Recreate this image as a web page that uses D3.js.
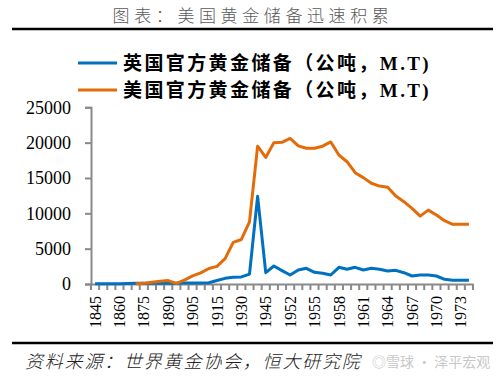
<!DOCTYPE html>
<html>
<head>
<meta charset="utf-8">
<script src="https://cdn.jsdelivr.net/npm/d3@7"></script>
<style>
  body { margin: 0; background: #fff; }
  svg { display: block; }
</style>
</head>
<body>
<svg></svg>
<script>
// categories (x axis), every 3rd one is labelled
let years = ['1845','1850','1855','1860','1865','1870','1875','1880','1885','1890',
             '1895','1900','1905','1910','1913','1915','1920','1925','1930','1935',
             '1940','1945','1948','1950','1952','1953','1954','1955','1956','1957',
             '1958','1959','1960','1961','1962','1963','1964','1965','1966','1967',
             '1968','1969','1970','1971','1972','1973','1974']

// UK official gold reserves (tonnes)
let ukGold = [40, 40, 40, 40, 60, 100, 100, 100, 100, 120,
              120, 130, 130, 150, 180, 500, 800, 950, 1000, 1400,
              12400, 1600, 2550, 1900, 1270, 1980, 2220, 1650, 1510, 1270,
              2360, 2080, 2360, 1980, 2220, 2080, 1840, 1930, 1600, 1130,
              1270, 1270, 1130, 660, 520, 520, 520]

// US official gold reserves (tonnes), no data before 1870
let usGold = [null, null, null, null, null, 30, 90, 250, 380, 480,
              80, 560, 1150, 1580, 2200, 2500, 3600, 5900, 6300, 8800,
              19500, 17900, 20000, 20050, 20600, 19550, 19200, 19200, 19500, 20100,
              18250, 17300, 15750, 15050, 14250, 13850, 13700, 12450, 11650, 10700,
              9600, 10450, 9750, 8950, 8450, 8450, 8450]

let yTicks = [0, 5000, 10000, 15000, 20000, 25000]

let seriesNames = ['英国官方黄金储备（公吨，M.T)', '美国官方黄金储备（公吨，M.T)']
let seriesColors = ['#0070C0', '#E36C0A']

let width = 502
let height = 379

let svg = d3.select('svg')
    .attr('width', width)
    .attr('height', height)

let serif = '"Liberation Serif", "Times New Roman", "Noto Sans CJK SC", serif'

// title
svg.append('text')
    .attr('x', 253)
    .attr('y', 22)
    .attr('text-anchor', 'middle')
    .style('font-family', '"Noto Sans CJK SC", sans-serif')
    .style('font-weight', 300)
    .style('font-size', '17px')
    .style('letter-spacing', '4.6px')
    .style('fill', '#595959')
    .text('图表：美国黄金储备迅速积累')

// top and bottom rules
svg.append('line')
    .attr('x1', 12).attr('x2', 493)
    .attr('y1', 29).attr('y2', 29)
    .attr('stroke', '#000').attr('stroke-width', 2.5)

svg.append('line')
    .attr('x1', 12).attr('x2', 493)
    .attr('y1', 343).attr('y2', 343)
    .attr('stroke', '#000').attr('stroke-width', 2.5)

// scales
let xScale = d3.scaleBand()
    .domain(years)
    .range([91, 473])

let yScale = d3.scaleLinear()
    .domain([0, 25000])
    .range([284, 107.3])

// y axis
let yAxis = d3.axisLeft(yScale)
    .tickValues(yTicks)
    .tickSize(6)
    .tickPadding(14)
    .tickFormat(d3.format('d'))

let gy = svg.append('g')
    .attr('transform', 'translate(91, 0)')
    .call(yAxis)
gy.select('.domain').attr('stroke', '#898989').attr('stroke-width', 2)
gy.selectAll('.tick line').attr('stroke', '#898989').attr('stroke-width', 2)
gy.selectAll('.tick text')
    .style('font-family', serif)
    .style('font-size', '18px')
    .style('fill', '#000')

// x axis: ticks at band edges, labels every 3rd category
let bw = xScale.bandwidth()
let xAxis = d3.axisBottom(xScale)
    .tickSize(6)
    .tickPadding(0)
    .tickSizeOuter(0)
    .tickFormat((d, i) => i % 3 === 0 ? d : '')

let gx = svg.append('g')
    .attr('transform', 'translate(0, 284)')
    .call(xAxis)
gx.select('.domain').attr('stroke', '#898989').attr('stroke-width', 2)
gx.selectAll('.tick line')
    .attr('x1', -bw / 2).attr('x2', -bw / 2)
    .attr('stroke', '#898989').attr('stroke-width', 2)
gx.append('line')
    .attr('x1', 473).attr('x2', 473)
    .attr('y1', 0).attr('y2', 6)
    .attr('stroke', '#898989').attr('stroke-width', 2)
gx.selectAll('.tick text')
    .attr('transform', 'rotate(-90)')
    .attr('text-anchor', 'end')
    .attr('x', -12)
    .attr('y', 0)
    .attr('dy', '0.35em')
    .style('font-family', serif)
    .style('font-size', '16px')
    .style('fill', '#000')

// lines
let line = d3.line()
    .defined(d => d != null)
    .x((d, i) => xScale(years[i]) + bw / 2)
    .y(d => yScale(d))

let allSeries = [ukGold, usGold]

svg.selectAll('path.series')
    .data(allSeries)
    .enter()
    .append('path')
    .attr('class', 'series')
    .attr('fill', 'none')
    .attr('stroke', (d, i) => seriesColors[i])
    .attr('stroke-width', 3)
    .attr('stroke-linejoin', 'round')
    .attr('d', d => line(d))

// legend
let legend = svg.selectAll('g.legend')
    .data(seriesNames)
    .enter()
    .append('g')
    .attr('class', 'legend')
    .attr('transform', (d, i) => 'translate(0,' + (63 + i * 27) + ')')

legend.append('line')
    .attr('x1', 78).attr('x2', 117)
    .attr('y1', 0).attr('y2', 0)
    .attr('stroke', (d, i) => seriesColors[i])
    .attr('stroke-width', 3)

legend.append('text')
    .attr('x', 123)
    .attr('y', 0)
    .attr('dy', '0.36em')
    .style('font-family', serif)
    .style('font-weight', 'bold')
    .style('font-size', '19px')
    .style('letter-spacing', '2.4px')
    .style('fill', '#000')
    .text(d => d)

// source note
svg.append('text')
    .attr('x', 25)
    .attr('y', 368)
    .style('font-family', '"Noto Sans CJK SC", sans-serif')
    .style('font-weight', 300)
    .style('font-style', 'italic')
    .style('font-size', '18px')
    .style('letter-spacing', '1.8px')
    .style('fill', '#222')
    .text('资料来源：世界黄金协会，恒大研究院')

// watermark
svg.append('text')
    .attr('x', 372)
    .attr('y', 367)
    .style('font-family', '"Noto Sans CJK SC", sans-serif')
    .style('font-size', '14px')
    .style('fill', '#c8c8c8')
    .text('◎雪球 · 泽平宏观')
</script>
</body>
</html>
